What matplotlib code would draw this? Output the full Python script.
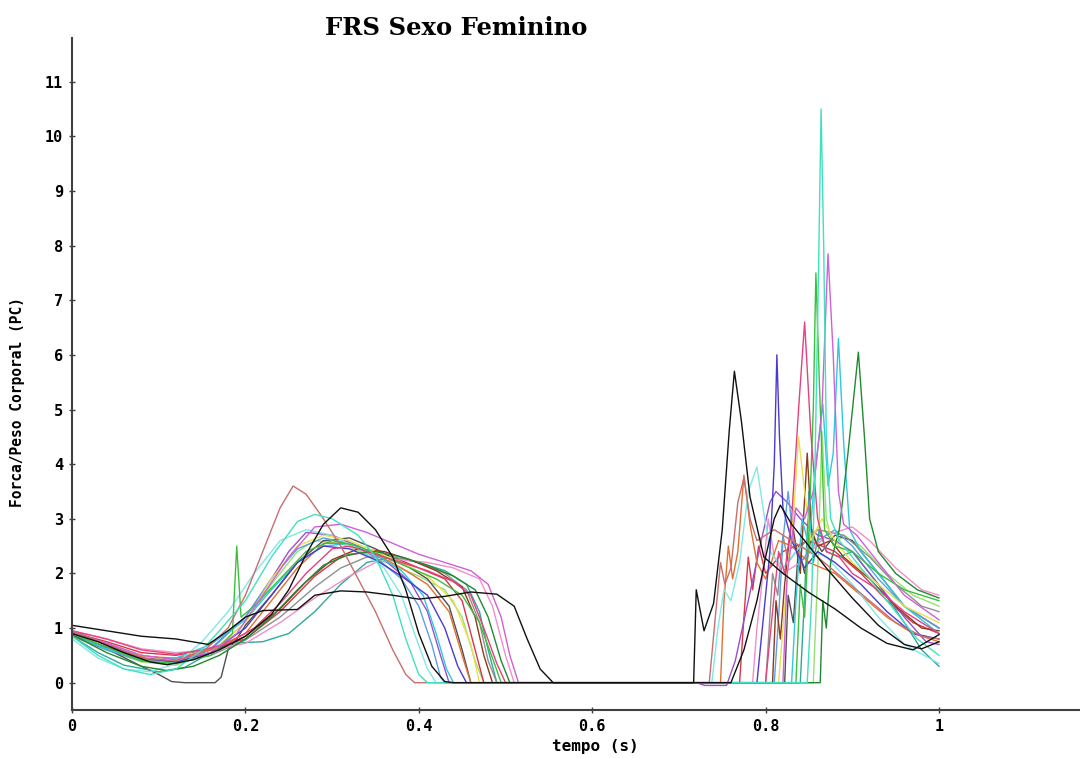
import matplotlib
matplotlib.use("Agg")
import matplotlib.pyplot as plt

# curvas FRS (tempo s, forca/peso corporal)
c01 = [(0,1.05),(0.04,0.95),(0.08,0.85),(0.12,0.8),(0.157,0.7),(0.18,0.95),(0.2,1.2),(0.22,1.32),(0.26,1.34),(0.28,1.6),(0.31,1.68),(0.34,1.66),(0.37,1.6),(0.40,1.53),(0.43,1.58),(0.46,1.66),(0.49,1.62),(0.51,1.4),(0.525,0.8),(0.54,0.25),(0.555,0),
       (0.717,0),(0.72,1.7),(0.729,0.95),(0.74,1.45),(0.75,2.8),(0.758,4.6),(0.764,5.7),(0.772,4.8),(0.782,3.4),(0.798,2.3),(0.82,2.0),(0.85,1.65),(0.88,1.35),(0.91,1.0),(0.94,0.72),(0.97,0.6),(1.0,0.88)]
c02 = [(0,0.9),(0.03,0.75),(0.06,0.55),(0.09,0.38),(0.11,0.33),(0.14,0.42),(0.17,0.6),(0.2,0.85),(0.23,1.25),(0.25,1.7),(0.27,2.35),(0.29,2.9),(0.31,3.2),(0.33,3.12),(0.35,2.8),(0.37,2.3),(0.385,1.7),(0.40,0.9),(0.415,0.3),(0.43,0.02),(0.44,0),
       (0.76,0),(0.775,0.6),(0.79,1.5),(0.80,2.3),(0.81,3.0),(0.817,3.25),(0.83,2.9),(0.85,2.5),(0.87,2.1),(0.9,1.55),(0.93,1.05),(0.96,0.7),(0.98,0.62),(1.0,0.75)]
c03 = [(0,0.85),(0.03,0.5),(0.06,0.25),(0.09,0.15),(0.12,0.25),(0.15,0.6),(0.17,0.95),(0.2,1.5),(0.23,2.3),(0.26,2.95),(0.28,3.08),(0.3,3.0),(0.33,2.7),(0.35,2.3),(0.37,1.6),(0.385,0.8),(0.40,0.15),(0.41,0),
       (0.848,0),(0.853,1.5),(0.857,4.0),(0.861,7.5),(0.864,10.5),(0.867,8.0),(0.87,4.5),(0.875,3.0),(0.885,2.6),(0.9,2.3),(0.92,1.9),(0.95,1.3),(0.975,0.8),(1.0,0.5)]
c04 = [(0,0.95),(0.04,0.7),(0.08,0.45),(0.12,0.4),(0.15,0.55),(0.18,1.0),(0.2,1.6),(0.22,2.4),(0.24,3.2),(0.255,3.6),(0.27,3.45),(0.29,3.0),(0.31,2.5),(0.33,1.9),(0.35,1.3),(0.37,0.6),(0.385,0.15),(0.395,0),
       (0.735,0),(0.742,1.2),(0.748,2.2),(0.753,1.8),(0.76,2.1),(0.768,3.3),(0.775,3.75),(0.782,3.0),(0.79,2.6),(0.81,2.8),(0.83,2.6),(0.86,2.3),(0.89,1.9),(0.92,1.5),(0.95,1.1),(0.98,0.85),(1.0,0.8)]
c05 = [(0,0.92),(0.04,0.72),(0.08,0.5),(0.12,0.42),(0.16,0.55),(0.19,0.9),(0.22,1.6),(0.25,2.3),(0.28,2.85),(0.31,2.9),(0.34,2.75),(0.37,2.55),(0.40,2.35),(0.43,2.2),(0.46,2.05),(0.48,1.8),(0.495,1.2),(0.505,0.5),(0.515,0),
       (0.82,0),(0.825,2.0),(0.835,3.2),(0.845,3.0),(0.855,3.5),(0.865,5.0),(0.872,7.85),(0.878,6.0),(0.884,3.5),(0.89,2.9),(0.905,2.7),(0.93,2.2),(0.96,1.6),(1.0,1.15)]
c06 = [(0,0.95),(0.04,0.8),(0.08,0.6),(0.12,0.52),(0.15,0.6),(0.18,0.72),(0.21,1.0),(0.24,1.45),(0.27,2.0),(0.30,2.45),(0.32,2.5),(0.35,2.35),(0.38,2.2),(0.41,2.05),(0.44,1.85),(0.46,1.6),(0.475,1.0),(0.49,0.35),(0.50,0),
       (0.80,0),(0.808,1.3),(0.815,2.4),(0.822,2.0),(0.83,3.0),(0.838,5.0),(0.845,6.6),(0.852,4.6),(0.86,3.0),(0.87,2.4),(0.885,2.3),(0.9,2.0),(0.93,1.7),(0.96,1.3),(1.0,0.9)]
c07 = [(0,0.9),(0.04,0.65),(0.08,0.4),(0.12,0.35),(0.16,0.5),(0.185,0.9),(0.19,2.5),(0.195,1.2),(0.21,1.4),(0.24,1.9),(0.27,2.4),(0.30,2.6),(0.33,2.5),(0.36,2.3),(0.39,2.1),(0.42,1.9),(0.45,1.6),(0.47,1.1),(0.485,0.45),(0.495,0),
       (0.835,0),(0.84,1.8),(0.845,1.2),(0.85,2.8),(0.855,5.0),(0.858,7.5),(0.862,5.5),(0.868,2.8),(0.88,2.5),(0.9,2.4),(0.93,2.0),(0.96,1.7),(1.0,1.5)]
c08 = [(0,0.88),(0.04,0.55),(0.08,0.3),(0.11,0.22),(0.14,0.3),(0.17,0.5),(0.2,0.8),(0.23,1.2),(0.26,1.7),(0.29,2.15),(0.32,2.35),(0.35,2.4),(0.38,2.3),(0.41,2.15),(0.44,1.95),(0.465,1.7),(0.48,1.2),(0.495,0.4),(0.505,0),
       (0.863,0),(0.866,1.5),(0.87,1.0),(0.875,2.2),(0.885,2.8),(0.895,4.2),(0.907,6.05),(0.914,4.5),(0.92,3.0),(0.93,2.4),(0.95,2.0),(0.975,1.7),(1.0,1.55)]
c09 = [(0,0.95),(0.04,0.7),(0.08,0.45),(0.12,0.38),(0.16,0.55),(0.2,1.0),(0.23,1.6),(0.26,2.2),(0.29,2.5),(0.32,2.45),(0.35,2.25),(0.38,1.95),(0.41,1.6),(0.43,1.0),(0.445,0.3),(0.455,0),
       (0.79,0),(0.795,0.8),(0.8,1.6),(0.805,2.4),(0.81,4.0),(0.813,6.0),(0.816,4.5),(0.82,3.2),(0.83,2.6),(0.845,2.1),(0.86,2.4),(0.88,2.2),(0.91,1.8),(0.94,1.3),(0.97,0.9),(1.0,0.8)]
c10 = [(0,0.9),(0.04,0.7),(0.08,0.5),(0.12,0.4),(0.16,0.55),(0.2,1.1),(0.23,1.9),(0.26,2.5),(0.29,2.7),(0.32,2.6),(0.35,2.4),(0.38,2.2),(0.41,1.95),(0.44,1.5),(0.46,0.7),(0.47,0),
       (0.815,0),(0.82,1.0),(0.826,2.2),(0.832,3.0),(0.838,4.5),(0.845,3.5),(0.852,2.6),(0.865,3.0),(0.88,2.6),(0.9,2.2),(0.93,1.8),(0.96,1.4),(1.0,1.1)]
c11 = [(0,0.8),(0.03,0.45),(0.06,0.25),(0.09,0.2),(0.12,0.35),(0.15,0.75),(0.18,1.3),(0.21,2.0),(0.24,2.6),(0.27,2.8),(0.30,2.7),(0.33,2.45),(0.36,2.1),(0.38,1.6),(0.395,0.9),(0.41,0.25),(0.42,0),
       (0.738,0),(0.745,1.0),(0.752,1.7),(0.76,1.5),(0.77,2.2),(0.78,3.5),(0.79,3.95),(0.797,3.2),(0.805,2.4),(0.82,2.1),(0.84,2.5),(0.87,2.3),(0.9,1.8),(0.93,1.2),(0.96,0.7),(1.0,0.35)]
c12 = [(0,0.9),(0.04,0.62),(0.08,0.42),(0.12,0.45),(0.16,0.7),(0.2,1.15),(0.23,1.7),(0.26,2.2),(0.29,2.5),(0.32,2.55),(0.35,2.35),(0.38,2.05),(0.405,1.6),(0.42,0.9),(0.432,0.25),(0.44,0),
       (0.83,0),(0.835,1.5),(0.842,3.0),(0.85,2.5),(0.858,4.0),(0.866,5.1),(0.872,3.6),(0.878,4.2),(0.884,6.3),(0.89,4.4),(0.897,2.8),(0.91,2.4),(0.93,2.0),(0.96,1.4),(1.0,0.9)]
c13 = [(0,0.88),(0.04,0.65),(0.08,0.45),(0.12,0.4),(0.16,0.55),(0.2,0.85),(0.24,1.35),(0.27,1.85),(0.30,2.25),(0.33,2.45),(0.36,2.4),(0.39,2.25),(0.42,2.05),(0.45,1.75),(0.465,1.2),(0.475,0.5),(0.485,0),
       (0.808,0),(0.812,1.5),(0.817,0.8),(0.822,1.8),(0.83,3.0),(0.84,2.0),(0.848,4.2),(0.853,2.8),(0.86,2.5),(0.875,2.6),(0.89,2.3),(0.92,1.9),(0.95,1.4),(0.98,1.0),(1.0,0.95)]
c14 = [(0,0.92),(0.04,0.7),(0.08,0.48),(0.12,0.45),(0.16,0.6),(0.2,0.9),(0.23,1.5),(0.26,2.1),(0.29,2.55),(0.32,2.55),(0.35,2.35),(0.38,2.1),(0.41,1.8),(0.435,1.3),(0.45,0.5),(0.46,0),
       (0.748,0),(0.752,1.5),(0.757,2.5),(0.762,1.9),(0.768,2.4),(0.775,3.8),(0.782,2.9),(0.79,2.2),(0.8,1.9),(0.815,2.6),(0.83,2.5),(0.85,2.2),(0.88,2.0),(0.91,1.6),(0.94,1.2),(0.97,0.9),(1.0,0.75)]
c15 = [(0,0.9),(0.04,0.6),(0.08,0.4),(0.12,0.35),(0.16,0.6),(0.2,1.2),(0.23,1.9),(0.26,2.45),(0.29,2.65),(0.32,2.55),(0.35,2.3),(0.38,1.9),(0.4,1.4),(0.415,0.7),(0.425,0.1),(0.43,0),
       (0.81,0),(0.815,1.2),(0.82,2.6),(0.826,3.5),(0.832,2.6),(0.84,2.2),(0.86,2.6),(0.88,2.8),(0.9,2.5),(0.93,1.9),(0.96,1.4),(1.0,1.0)]
c16 = [(0,0.95),(0.04,0.8),(0.08,0.62),(0.12,0.55),(0.16,0.6),(0.2,0.72),(0.24,1.1),(0.28,1.55),(0.32,1.95),(0.35,2.2),(0.38,2.25),(0.41,2.2),(0.44,2.1),(0.47,1.9),(0.485,1.4),(0.5,0.5),(0.51,0),
       (0.785,0),(0.79,1.0),(0.797,2.0),(0.803,3.0),(0.81,2.3),(0.82,2.0),(0.84,2.2),(0.87,2.7),(0.9,2.85),(0.92,2.6),(0.95,2.1),(0.98,1.7),(1.0,1.6)]
c17 = [(0,0.85),(0.04,0.6),(0.08,0.42),(0.12,0.38),(0.16,0.5),(0.2,0.78),(0.24,1.2),(0.28,1.75),(0.31,2.1),(0.34,2.3),(0.37,2.3),(0.4,2.2),(0.43,2.0),(0.455,1.7),(0.47,1.1),(0.48,0.4),(0.49,0),
       (0.80,0),(0.803,0.7),(0.808,2.0),(0.814,1.6),(0.82,2.7),(0.826,2.2),(0.835,2.4),(0.86,2.8),(0.89,2.7),(0.92,2.3),(0.95,1.8),(0.98,1.4),(1.0,1.3)]
c18 = [(0,0.9),(0.04,0.72),(0.08,0.5),(0.12,0.42),(0.16,0.62),(0.2,1.2),(0.23,1.9),(0.25,2.4),(0.27,2.75),(0.3,2.7),(0.33,2.5),(0.36,2.25),(0.39,1.85),(0.41,1.3),(0.425,0.5),(0.435,0),
       (0.72,0),(0.73,-0.05),(0.755,-0.05),(0.765,0.4),(0.78,1.5),(0.795,2.6),(0.805,3.3),(0.812,3.5),(0.825,3.3),(0.84,3.0),(0.86,2.7),(0.88,2.6),(0.9,2.4),(0.93,1.8),(0.96,1.2),(0.985,0.75),(1.0,0.7)]
c19 = [(0,0.85),(0.03,0.55),(0.06,0.32),(0.1,0.2),(0.13,0.28),(0.16,0.55),(0.18,0.72),(0.22,0.75),(0.25,0.9),(0.28,1.3),(0.31,1.8),(0.34,2.2),(0.37,2.3),(0.40,2.2),(0.43,2.05),(0.455,1.8),(0.47,1.3),(0.48,0.6),(0.49,0),
       (0.84,0),(0.845,1.6),(0.85,3.5),(0.855,2.2),(0.862,2.8),(0.87,2.4),(0.885,2.3),(0.9,2.4),(0.93,1.8),(0.96,1.1),(0.98,0.6),(1.0,0.3)]
c20 = [(0,0.9),(0.04,0.62),(0.08,0.3),(0.1,0.15),(0.115,0.02),(0.13,0),(0.15,0),(0.165,0),(0.172,0.1),(0.18,0.6),(0.19,0.8),(0.2,1.05),(0.23,1.6),(0.26,2.2),(0.29,2.6),(0.32,2.65),(0.35,2.45),(0.38,2.2),(0.41,1.9),(0.435,1.4),(0.45,0.6),(0.46,0),
       (0.822,0),(0.826,1.6),(0.832,1.1),(0.838,2.5),(0.845,2.0),(0.853,2.7),(0.865,2.4),(0.88,2.7),(0.9,2.6),(0.93,2.0),(0.96,1.4),(1.0,1.0)]
c21 = [(0,0.92),(0.04,0.75),(0.08,0.55),(0.12,0.5),(0.16,0.62),(0.2,0.8),(0.24,1.3),(0.28,1.95),(0.31,2.3),(0.34,2.4),(0.37,2.3),(0.4,2.1),(0.43,1.9),(0.45,1.5),(0.465,0.6),(0.475,0),
       (0.77,0),(0.775,1.2),(0.78,2.3),(0.785,1.7),(0.792,2.5),(0.8,2.0),(0.82,2.4),(0.85,2.6),(0.88,2.4),(0.91,2.0),(0.94,1.5),(0.97,1.1),(1.0,0.9)]
c22 = [(0,0.88),(0.04,0.6),(0.08,0.38),(0.12,0.32),(0.16,0.55),(0.2,1.1),(0.23,1.8),(0.26,2.4),(0.28,2.6),(0.31,2.55),(0.34,2.35),(0.37,2.15),(0.40,1.95),(0.43,1.7),(0.45,1.2),(0.465,0.4),(0.475,0),
       (0.855,0),(0.86,2.0),(0.865,4.6),(0.87,3.0),(0.878,2.5),(0.89,2.7),(0.91,2.5),(0.94,2.0),(0.97,1.6),(1.0,1.4)]

curvas = [c22, c21, c20, c19, c18, c17, c16, c15, c14, c13, c12, c11, c10, c09, c08, c07, c06, c05, c04, c03, c02, c01]
cores = ['#98e070', '#d8344a', '#505050', '#30a89a', '#9a50c8', '#909090', '#f090c8', '#5aa0e6', '#e07030', '#8b3a1c',
         '#30c8e0', '#80e8e8', '#e8e050', '#4a3ad0', '#208a30', '#3cc03c', '#e8407c', '#d060d8', '#c86e6e', '#40e0c0',
         '#101010', '#101010']

xticks = [0, 0.2, 0.4, 0.6, 0.8, 1]
xlabels = ['0', '0.2', '0.4', '0.6', '0.8', '1']
yticks = list(range(0, 12))

fig = plt.figure(figsize=(10.8, 7.58), dpi=100)
ax = fig.add_axes([72/1080, 1-710/758, 1-72/1080, (710-38)/758])

for c, cor in zip(curvas, cores):
    t = [p[0] for p in c]
    f = [p[1] for p in c]
    ax.plot(t, f, color=cor, lw=1.0)

ax.set_xlim(0, 1008/867)
ax.set_ylim(-0.5, 11.8)
ax.spines['top'].set_visible(False)
ax.spines['right'].set_visible(False)
for s in ['left', 'bottom']:
    ax.spines[s].set_color('#404040')
    ax.spines[s].set_linewidth(1.5)

mono = dict(family='DejaVu Sans Mono', weight='bold', size=11)
ax.set_xticks(xticks)
ax.set_xticklabels(xlabels, fontdict=mono)
ax.set_yticks(yticks)
ax.set_yticklabels([str(v) for v in yticks], fontdict=mono)
ax.tick_params(direction='inout', length=5, width=1, color='#404040', pad=4)

fig.text(456/1080, 1-28/758, 'FRS Sexo Feminino', ha='center', va='center',
         family='DejaVu Serif', weight='bold', size=17.5)
fig.text(18/1080, 1-402/758, 'Forca/Peso Corporal (PC)', rotation=90, ha='center', va='center',
         family='DejaVu Sans Mono', weight='bold', size=10.5)
fig.text(595/1080, 1-747/758, 'tempo (s)', ha='center', va='center',
         family='DejaVu Sans Mono', weight='bold', size=11.5)

fig.savefig('out.png', dpi=100)
